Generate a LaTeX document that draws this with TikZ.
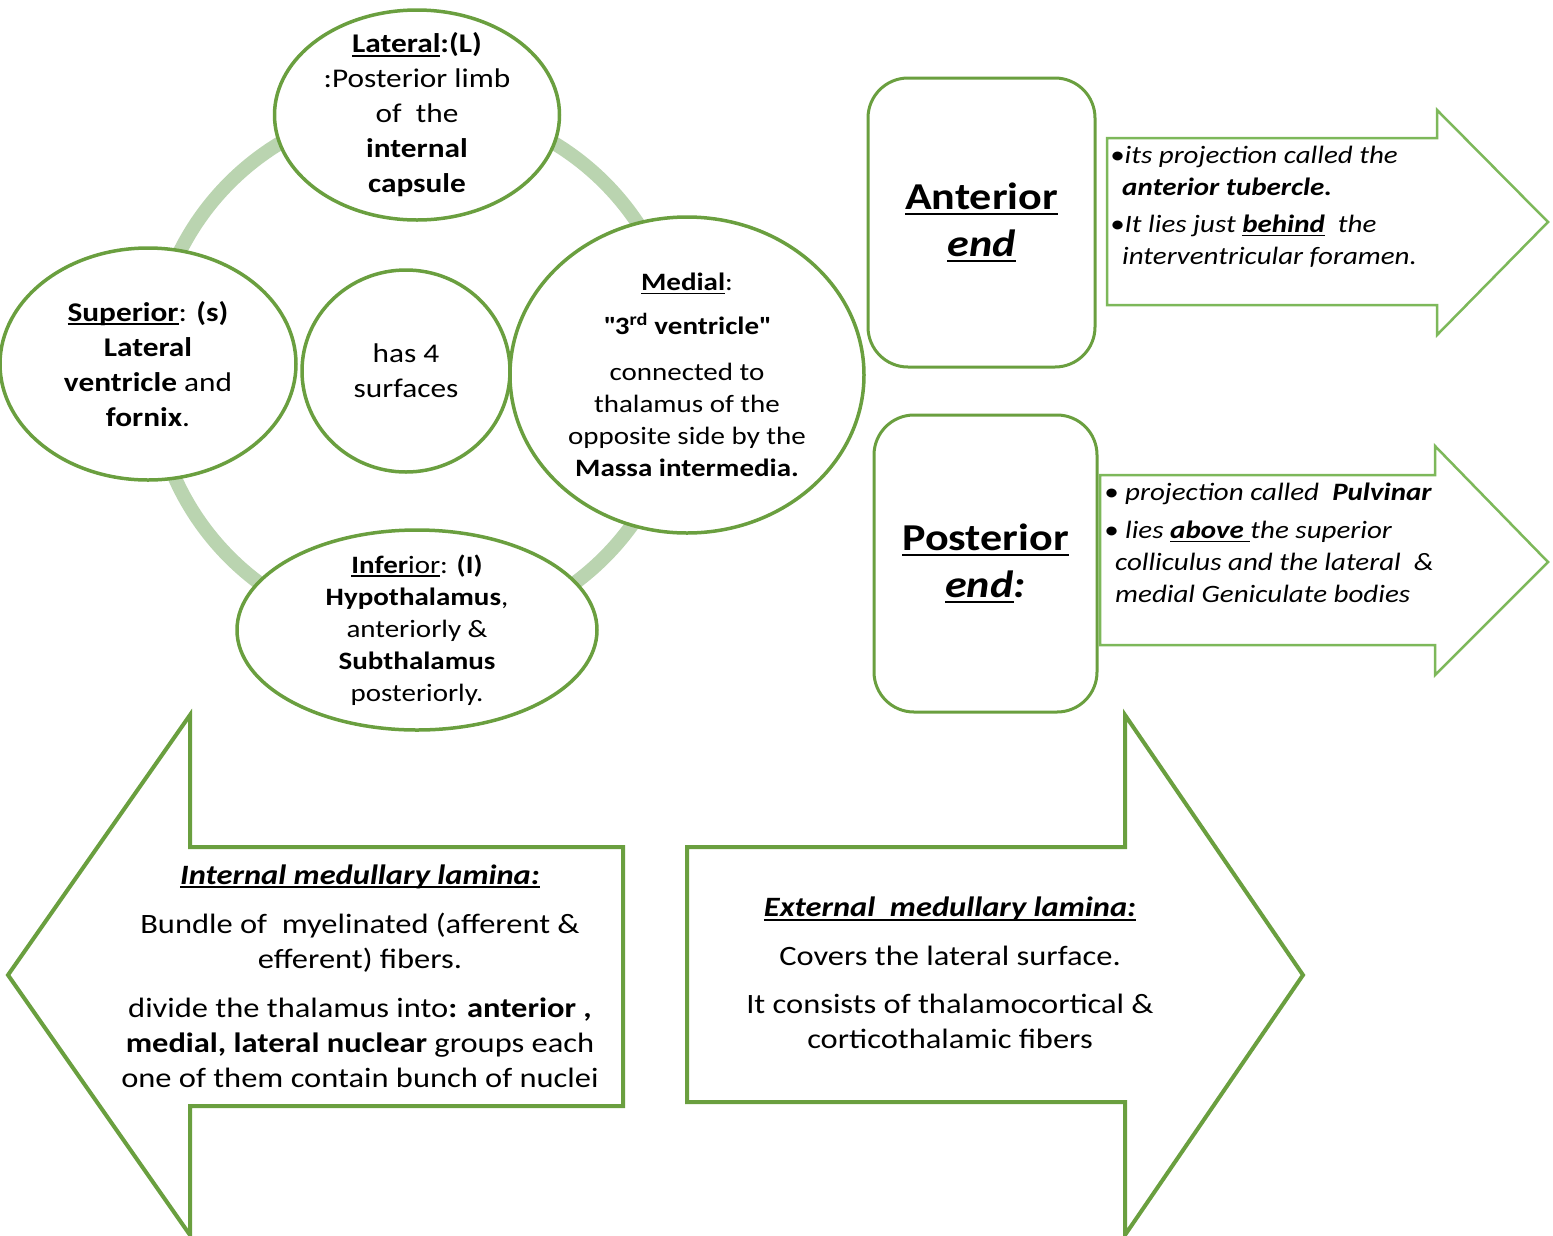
\documentclass[tikz,border=0pt]{standalone}
\usepackage{fontspec}
\setmainfont[FakeStretch=1.16]{Carlito}
\usetikzlibrary{shapes.geometric,positioning}
\definecolor{RingGreen}{HTML}{BAD4B0}
\definecolor{EdgeGreen}{HTML}{6A9F3F}
\definecolor{LiteGreen}{HTML}{7DB85A}
\newcommand{\fs}[2]{\fontsize{#1}{#2}\selectfont}
% underline at a fixed depth, as a word processor does
\newcommand{\ulin}[1]{\setbox0=\hbox{#1}\leavevmode\rlap{\rule[-0.14em]{\wd0}{0.065em}}\box0}
\tikzset{
  % surface ellipse (drawn empty, text goes on top)
  SE/.style={ellipse,draw=EdgeGreen,line width=3.5pt,fill=white,inner sep=0pt},
  % text of a surface
  ST/.style={align=center,inner sep=0pt},
  % end box
  EB/.style={rectangle,rounded corners=40pt,draw=EdgeGreen,line width=3pt,
             fill=white,align=center,font=\fs{38}{47}\bfseries},
  % small block arrow
  arS/.style={draw=LiteGreen,line width=2.5pt,fill=white,line join=miter},
  % big block arrow
  arB/.style={draw=EdgeGreen,line width=4pt,fill=white,line join=miter},
  % arrow texts
  AT/.style={align=left,inner sep=0pt,font=\fs{25}{32}\itshape},
  BT/.style={align=center,inner sep=0pt,font=\fs{28}{35}}
}

\begin{document}
\begin{tikzpicture}[x=1pt,y=-1pt]
  \useasboundingbox (0,0) rectangle (1553,1235);

  % ring behind the surfaces
  \draw[RingGreen,line width=14pt] (417,370) circle (265pt);

  \node[SE,minimum width=285,minimum height=210] (lat) at (417,115) {};
  \node[SE,minimum width=296,minimum height=232] (sup) at (148,364) {};
  \node[SE,minimum width=208,minimum height=202] (cen) at (406,371) {};
  \node[SE,minimum width=354,minimum height=316] (med) at (687,375) {};
  \node[SE,minimum width=360,minimum height=200] (inf) at (417,630) {};

  \node[ST,font=\fs{27}{35}] (latT) at (lat)
    {\textbf{\ulin{Lateral}:(L)}\\:Posterior limb\\of~ the\\\textbf{internal}\\\textbf{capsule}};
  \node[ST,font=\fs{27}{35}] (supT) at (sup)
    {\ulin{\textbf{Superior}}: \textbf{(s)}\\\textbf{Lateral}\\\textbf{ventricle} and\\\textbf{fornix}.};
  \node[ST,font=\fs{27}{35}] (cenT) at (cen) {has 4\\surfaces};
  \node[ST,font=\fs{25}{32}] (medT) at (med)
    {\ulin{\textbf{Medial}}:\\[12pt]\textbf{\textquotedbl 3\textsuperscript{rd} ventricle\textquotedbl}\\[14pt]connected to\\thalamus of the\\opposite side by the\\\textbf{Massa intermedia.}};
  \node[ST,font=\fs{25}{32}] (infT) at (inf)
    {\ulin{\textbf{Infer}ior}: \textbf{(I)}\\\textbf{Hypothalamus},\\anteriorly \&\\\textbf{Subthalamus}\\posteriorly.};

  % anterior and posterior ends
  \node[EB,minimum width=227,minimum height=289] (ant) at (981.5,222.5)
    {\ulin{Anterior}\\\ulin{\textit{end}}};
  \node[EB,minimum width=223,minimum height=297] (pos) at (985.5,563.5)
    {\ulin{Posterior}\\\ulin{\textit{end}}\textit{:}};

  \draw[arS] (1107,138) -- (1437,138) -- (1437,110) -- (1548,222)
    -- (1437,335) -- (1437,305) -- (1107,305) -- cycle;
  \draw[arS] (1100,475) -- (1435,475) -- (1435,446) -- (1548,562)
    -- (1435,675) -- (1435,645) -- (1100,645) -- cycle;

  \node[AT,anchor=west] (antT) at (1110,207)
    {•its projection called the\\
     \hspace*{12pt}\textbf{anterior tubercle.}\\[5pt]
     •It lies just \textbf{\ulin{behind}}~ the\\
     \hspace*{12pt}interventricular foramen.};
  \node[AT,anchor=west] (posT) at (1104,543)
    {• projection called~ \textbf{Pulvinar}\\[6pt]
     • lies \textbf{\ulin{above }}the superior\\
     \hspace*{11pt}colliculus and the lateral~ \&\\
     \hspace*{11pt}medial Geniculate bodies};

  % medullary laminae
  \draw[arB] (623,847) -- (190,847) -- (190,715) -- (8,975)
    -- (190,1235) -- (190,1106) -- (623,1106) -- cycle;
  \draw[arB] (687,847) -- (1125,847) -- (1125,715) -- (1303,975)
    -- (1125,1235) -- (1125,1102) -- (687,1102) -- cycle;

  \node[BT] (int) at (360,976)
    {\textbf{\textit{\ulin{Internal medullary lamina:}}}\\[14pt]
     Bundle of~ myelinated (afferent \&\\efferent) fibers.\\[14pt]
     divide the thalamus into\textbf{: anterior ,}\\
     \textbf{medial, lateral nuclear} groups each\\
     one of them contain bunch of nuclei};
  \node[BT] (ext) at (950,973)
    {\textbf{\textit{\ulin{External~ medullary lamina:}}}\\[14pt]
     Covers the lateral surface.\\[13pt]
     It consists of thalamocortical \&\\corticothalamic fibers};
\end{tikzpicture}
\end{document}
